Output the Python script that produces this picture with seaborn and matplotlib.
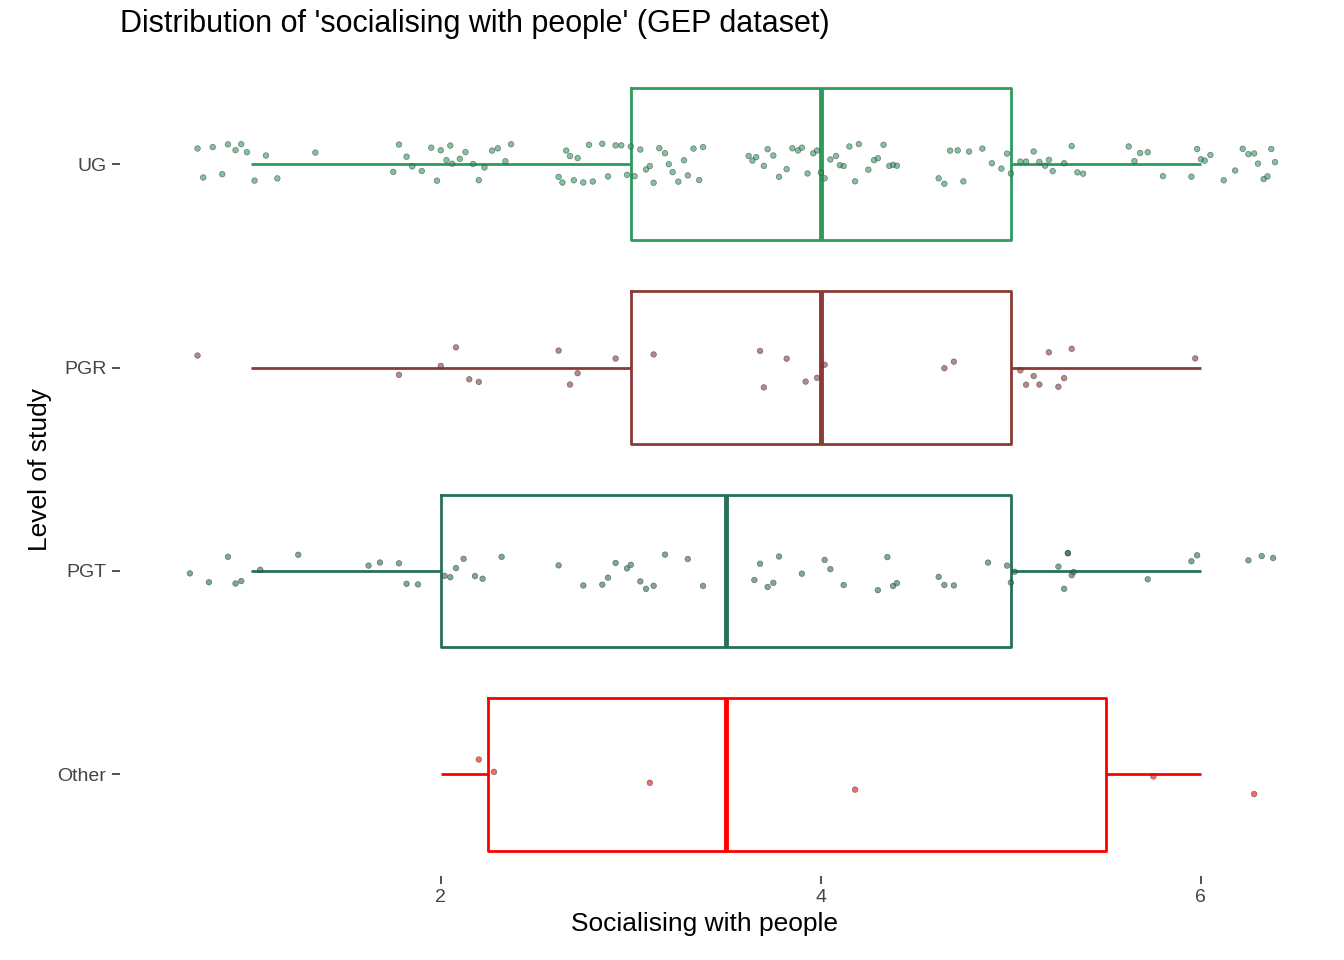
import numpy as np
import pandas as pd
import matplotlib
matplotlib.use("Agg")
import matplotlib.pyplot as plt
import seaborn as sns

ug = [0.72, 0.75, 0.8, 0.85, 0.88, 0.92, 0.95, 0.98, 1.02, 1.08, 1.14, 1.34,
      1.75, 1.78, 1.82, 1.85, 1.9, 1.95, 1.98, 2.0, 2.03, 2.05, 2.06, 2.1, 2.13, 2.17, 2.2, 2.23, 2.27, 2.3, 2.34, 2.37,
      2.62, 2.64, 2.66, 2.68, 2.7, 2.72, 2.75, 2.78, 2.8, 2.85, 2.88, 2.92, 2.95, 2.98, 3.0, 3.02, 3.05, 3.08,
      3.1, 3.12, 3.15, 3.18, 3.2, 3.22, 3.25, 3.28, 3.3, 3.33, 3.36, 3.38,
      3.62, 3.64, 3.66, 3.7, 3.72, 3.75, 3.78, 3.82, 3.85, 3.88, 3.9, 3.93, 3.96, 3.98, 4.0,
      4.02, 4.05, 4.08, 4.1, 4.12, 4.15, 4.18, 4.2, 4.25, 4.28, 4.3, 4.33, 4.36, 4.38, 4.4,
      4.62, 4.65, 4.68, 4.72, 4.75, 4.78, 4.85, 4.9, 4.95, 4.98, 5.0, 5.05, 5.08, 5.12, 5.15, 5.18,
      5.2, 5.22, 5.28, 5.32, 5.35, 5.38,
      5.62, 5.65, 5.68, 5.72, 5.8, 5.95, 5.98, 6.0, 6.02, 6.05, 6.12, 6.18, 6.22, 6.25, 6.28, 6.3,
      6.33, 6.35, 6.37, 6.39]
pgr = [0.72,
       1.78, 2.0, 2.08, 2.15, 2.2,
       2.62, 2.68, 2.72, 2.92, 3.12,
       3.68, 3.7, 3.82, 3.92, 3.98, 4.02,
       4.65, 4.7, 5.05, 5.08, 5.12, 5.15, 5.2, 5.25, 5.28, 5.32,
       5.97]
pgt = [0.68, 0.78, 0.88, 0.92, 0.95, 1.05, 1.25,
       1.62, 1.68, 1.78, 1.82, 1.88, 2.02, 2.05, 2.08, 2.12, 2.18, 2.22, 2.32,
       2.62, 2.75, 2.85, 2.88, 2.92, 2.98, 3.0, 3.05, 3.08, 3.12, 3.18, 3.3, 3.38,
       3.65, 3.68, 3.72, 3.75, 3.78, 3.9, 4.02, 4.05, 4.12, 4.3, 4.35, 4.38, 4.4,
       4.62, 4.65, 4.7, 4.88, 4.98, 5.0, 5.02, 5.25, 5.28, 5.3, 5.3, 5.32, 5.33,
       5.72, 5.95, 5.98, 6.25, 6.32, 6.38]
other = [2.2, 2.28, 3.1, 4.18, 5.75, 6.28]

levels = ["UG", "PGR", "PGT", "Other"]
colors = {"UG": "#2E9B5E", "PGR": "#8B3A36", "PGT": "#27705A", "Other": "#FF0000"}

df = pd.concat([pd.DataFrame({"level": k, "x": v}) for k, v in zip(levels, [ug, pgr, pgt, other])])
df["value"] = np.round(df["x"])

plt.rcParams["font.family"] = ["Liberation Sans", "DejaVu Sans"]
fig, ax = plt.subplots(figsize=(13.44, 9.6), dpi=100)

sns.boxplot(data=df, x="value", y="level", hue="level", order=levels, palette=colors,
            fill=False, width=0.75, showfliers=False, whis=1.5, linewidth=2,
            medianprops={"linewidth": 3.5}, capprops={"linewidth": 0},
            legend=False, ax=ax)
sns.stripplot(data=df, x="x", y="level", hue="level", order=levels, palette=colors,
              jitter=0.1, size=4, alpha=0.6, linewidth=0.5, edgecolor="#333333",
              legend=False, ax=ax)

ax.set_xlim(0.31, 6.47)
ax.set_xticks([2, 4, 6])
for s in ax.spines.values():
    s.set_visible(False)
ax.tick_params(axis="both", colors="#333333", labelsize=14, length=6, width=1.2, labelcolor="#444444")
ax.set_xlabel("Socialising with people", fontsize=19, color="black")
ax.set_ylabel("Level of study", fontsize=19, color="black")
ax.set_title("Distribution of 'socialising with people' (GEP dataset)", fontsize=22, loc="left", pad=22)
fig.subplots_adjust(left=0.089, right=0.96, top=0.935, bottom=0.0875)
fig.savefig("out.png", dpi=100)
